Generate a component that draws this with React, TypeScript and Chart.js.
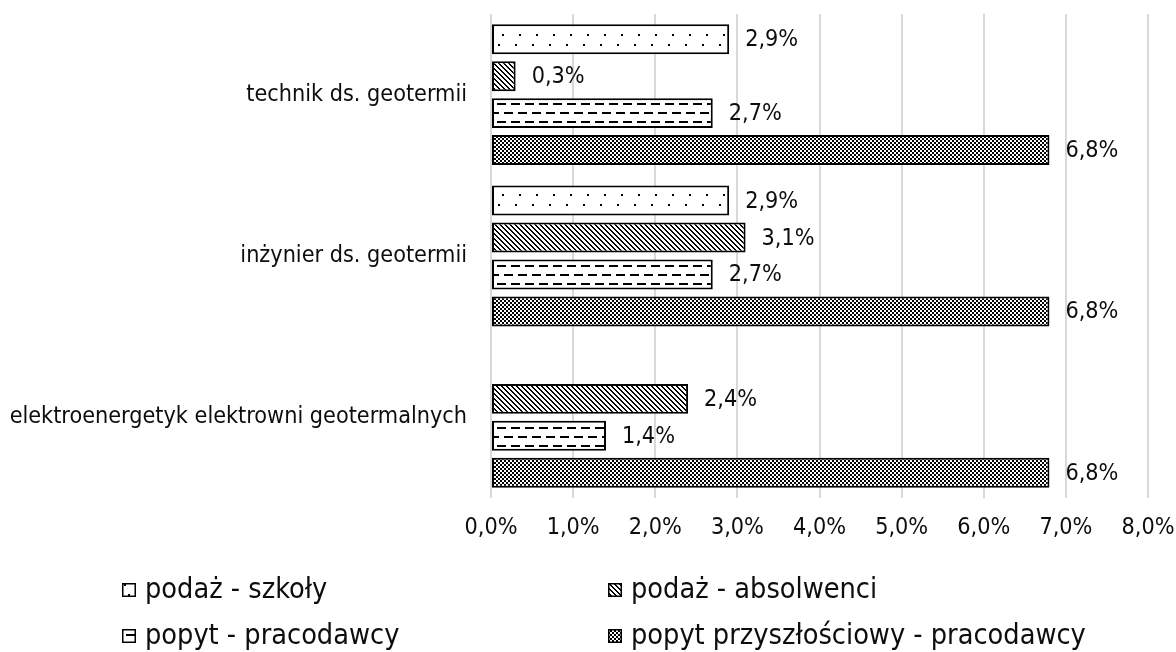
import React, { useEffect, useRef } from 'react';
import { Chart, registerables } from 'chart.js';

Chart.register(...registerables);

// ---- data ----
const categories = [
  'technik ds. geotermii',
  'inżynier ds. geotermii',
  'elektroenergetyk elektrowni geotermalnych',
];
const seriesNames = [
  'podaż - szkoły',
  'podaż - absolwenci',
  'popyt - pracodawcy',
  'popyt przyszłościowy - pracodawcy',
];
const podazSzkoly: (number | null)[] = [2.9, 2.9, null];
const podazAbsolwenci: (number | null)[] = [0.3, 3.1, 2.4];
const popytPracodawcy: (number | null)[] = [2.7, 2.7, 1.4];
const popytPrzyszlosciowy: (number | null)[] = [6.8, 6.8, 6.8];
const xMin = 0;
const xMax = 8;
const xStep = 1;

const FONT = "'DejaVu Sans Condensed', 'DejaVu Sans', sans-serif";
const TEXT = '#0d0d0d';
const AXIS_SIZE = 23.2;
const LEGEND_SIZE = 28.6;

const fmt = (v: number) => v.toFixed(1).replace('.', ',') + '%';

function makePattern(kind: string): CanvasPattern | string {
  const c = document.createElement('canvas');
  const x = c.getContext('2d');
  if (!x) return '#888';
  if (kind === 'dots') {
    c.width = 17; c.height = 20;
    x.fillStyle = '#fff'; x.fillRect(0, 0, 17, 20);
    x.fillStyle = '#000';
    x.fillRect(9, 14, 2, 2);
    x.fillRect(5, 4, 2, 2);
  } else if (kind === 'hatch') {
    c.width = 5; c.height = 5;
    x.fillStyle = '#fff'; x.fillRect(0, 0, 5, 5);
    x.fillStyle = '#000';
    for (let y = 0; y < 5; y++) {
      x.fillRect(y % 5, y, 1, 1);
      x.fillRect((y + 1) % 5, y, 1, 1);
    }
  } else if (kind === 'dashes') {
    c.width = 28; c.height = 18;
    x.fillStyle = '#fff'; x.fillRect(0, 0, 28, 18);
    x.fillStyle = '#000';
    x.fillRect(0, 4, 9, 2);
    x.fillRect(14, 4, 9, 2);
    x.fillRect(7, 13, 9, 2);
    x.fillRect(21, 13, 7, 2);
    x.fillRect(0, 13, 2, 2);
  } else {
    c.width = 4; c.height = 4;
    x.fillStyle = '#fff'; x.fillRect(0, 0, 4, 4);
    x.fillStyle = '#000';
    x.fillRect(0, 0, 2, 2);
    x.fillRect(2, 2, 2, 2);
  }
  const ctx = document.createElement('canvas').getContext('2d');
  return (ctx && ctx.createPattern(c, 'repeat')) || '#888';
}

const legendLayout = [
  { x: 122, y: 598 },
  { x: 608, y: 598 },
  { x: 122, y: 644 },
  { x: 608, y: 644 },
];

const dataLabelPlugin = {
  id: 'dataLabels',
  afterDatasetsDraw(chart: any) {
    const ctx = chart.ctx;
    ctx.save();
    ctx.font = `${AXIS_SIZE}px ${FONT}`;
    ctx.fillStyle = TEXT;
    ctx.textAlign = 'left';
    ctx.textBaseline = 'middle';
    chart.data.datasets.forEach((ds: any, di: number) => {
      const meta = chart.getDatasetMeta(di);
      meta.data.forEach((el: any, i: number) => {
        const v = ds.data[i];
        if (v === null || v === undefined) return;
        ctx.fillText(fmt(v), el.x + 16, el.y + 1);
      });
    });
    ctx.restore();
  },
};

const legendPlugin = {
  id: 'customLegend',
  afterDraw(chart: any) {
    const ctx = chart.ctx;
    ctx.save();
    ctx.font = `${LEGEND_SIZE}px ${FONT}`;
    ctx.textAlign = 'left';
    ctx.textBaseline = 'alphabetic';
    chart.data.datasets.forEach((ds: any, i: number) => {
      const pos = legendLayout[i];
      const bx = pos.x, by = pos.y - 15, bs = 14;
      ctx.fillStyle = ds.backgroundColor;
      ctx.fillRect(bx, by, bs, bs);
      ctx.strokeStyle = '#000';
      ctx.lineWidth = 1.5;
      ctx.strokeRect(bx + 0.75, by + 0.75, bs - 1.5, bs - 1.5);
      ctx.fillStyle = TEXT;
      ctx.fillText(ds.label, bx + bs + 9, pos.y);
    });
    ctx.restore();
  },
};

export default function App() {
  const ref = useRef<HTMLCanvasElement | null>(null);
  useEffect(() => {
    if (!ref.current) return;
    const kinds = ['dots', 'hatch', 'dashes', 'checker'];
    const values = [podazSzkoly, podazAbsolwenci, popytPracodawcy, popytPrzyszlosciowy];
    const chart = new Chart(ref.current, {
      type: 'bar',
      data: {
        labels: categories,
        datasets: values.map((d, i) => ({
          label: seriesNames[i],
          data: d,
          backgroundColor: makePattern(kinds[i]) as any,
          borderColor: '#000',
          borderWidth: 2,
          borderSkipped: false,
          categoryPercentage: 0.916,
          barPercentage: 0.81,
        })),
      },
      options: {
        indexAxis: 'y',
        animation: false,
        responsive: false,
        layout: { padding: { left: 0, right: 28, top: 14, bottom: 94 } },
        plugins: {
          legend: { display: false },
          tooltip: { enabled: false },
        },
        scales: {
          x: {
            min: xMin,
            max: xMax,
            grid: { color: '#d9d9d9', lineWidth: 2, drawTicks: false },
            border: { display: false },
            ticks: {
              stepSize: xStep,
              padding: 16,
              color: TEXT,
              font: { family: FONT, size: AXIS_SIZE },
              callback: (v: any) => fmt(Number(v)),
            },
            afterFit: (s: any) => {
              s.height = 60;
              s.paddingLeft = 0; s.paddingRight = 0; s.paddingTop = 0; s.paddingBottom = 0;
            },
          },
          y: {
            grid: { display: false, drawTicks: false },
            border: { display: false },
            ticks: {
              padding: 24,
              color: TEXT,
              font: { family: FONT, size: AXIS_SIZE },
            },
            afterFit: (s: any) => {
              s.width = 491;
              s.paddingLeft = 0; s.paddingRight = 0; s.paddingTop = 0; s.paddingBottom = 0;
            },
          },
        },
      },
      plugins: [dataLabelPlugin, legendPlugin],
    });
    return () => chart.destroy();
  }, []);
  return (
    <div style={{ position: 'absolute', left: 0, top: 0, width: 1176, height: 652, background: '#fff' }}>
      <canvas ref={ref} width={1176} height={652} style={{ display: 'block' }} />
    </div>
  );
}
